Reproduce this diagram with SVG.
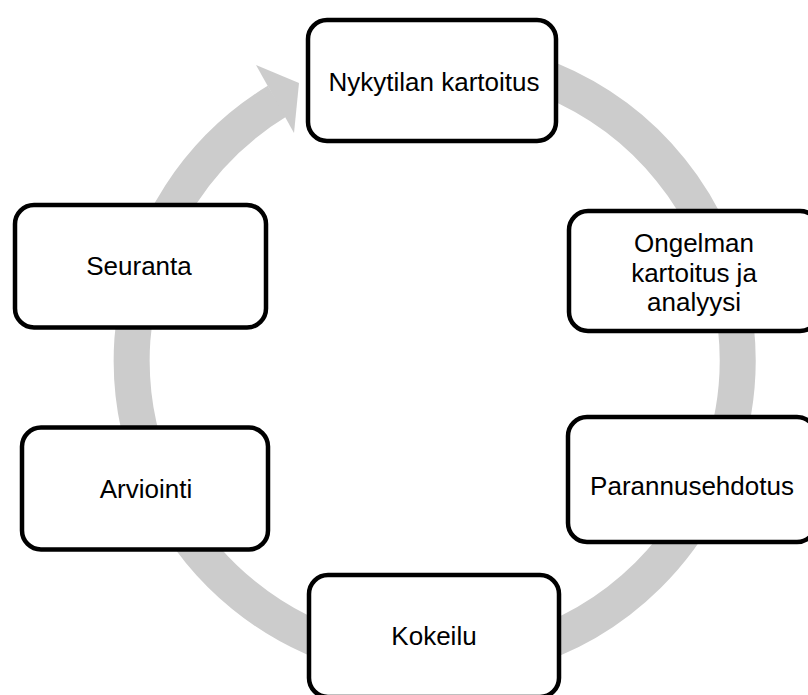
<svg xmlns="http://www.w3.org/2000/svg" width="808" height="695" viewBox="0 0 808 695">
  <style>
    .ring { fill: none; stroke: #cccccc; stroke-width: 36; stroke-linecap: butt; }
    .head { fill: #cccccc; stroke: none; }
    .box { fill: #ffffff; stroke: #000000; stroke-width: 4.5; }
    .label { font-family: "Liberation Sans", Arial, sans-serif; font-size: 26px; fill: #000000; text-anchor: middle; }
  </style>
  <rect width="808" height="695" fill="#ffffff"/>

  <!-- continuous cycle arrow -->
  <g id="connectors">
    <path class="ring" d="M 435 57 A 303 303 0 1 1 277.1 101.2"/>
    <polygon class="head" points="256,65 299,83 294,133"/>
  </g>

  <g id="node-nykytila">
    <rect class="box" x="308" y="20" width="248" height="121" rx="19"/>
    <text class="label" x="434" y="91">Nykytilan kartoitus</text>
  </g>

  <g id="node-ongelma">
    <rect class="box" x="569" y="211" width="250" height="120" rx="19"/>
    <text class="label" x="694" y="252">Ongelman</text>
    <text class="label" x="694" y="281.5">kartoitus ja</text>
    <text class="label" x="694" y="311">analyysi</text>
  </g>

  <g id="node-parannus">
    <rect class="box" x="568" y="417" width="248" height="125" rx="19"/>
    <text class="label" x="692" y="495">Parannusehdotus</text>
  </g>

  <g id="node-kokeilu">
    <rect class="box" x="309" y="575" width="250" height="122" rx="19"/>
    <text class="label" x="434" y="645">Kokeilu</text>
  </g>

  <g id="node-arviointi">
    <rect class="box" x="22" y="427.5" width="246" height="122" rx="19"/>
    <text class="label" x="146" y="498">Arviointi</text>
  </g>

  <g id="node-seuranta">
    <rect class="box" x="15" y="205" width="251" height="122.5" rx="19"/>
    <text class="label" x="139" y="275">Seuranta</text>
  </g>
</svg>
